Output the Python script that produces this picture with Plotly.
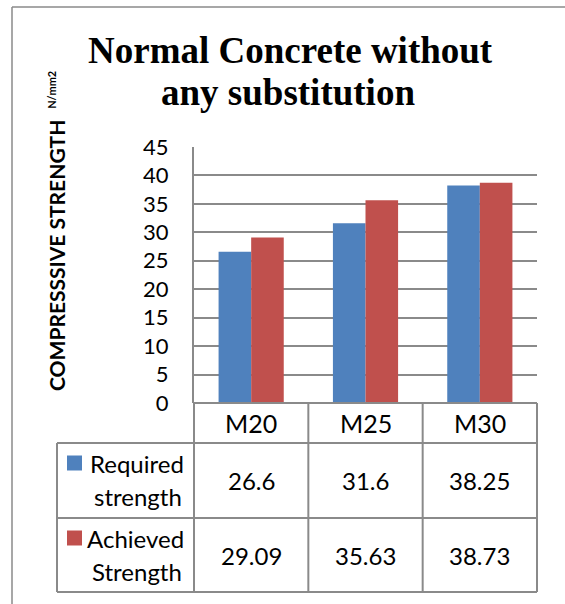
import plotly.graph_objects as go

# ---- data ----
categories = ["M20", "M25", "M30"]
series_names = ["Required strength", "Achieved Strength"]
legend_lines = [["Required", "strength"], ["Achieved", "Strength"]]
required = [26.6, 31.6, 38.25]
achieved = [29.09, 35.63, 38.73]
value_labels = [["26.6", "31.6", "38.25"], ["29.09", "35.63", "38.73"]]
y_ticks = [0, 5, 10, 15, 20, 25, 30, 35, 40, 45]
colors = ["#4F81BD", "#C0504D"]

# ---- geometry (pixels) ----
W, H = 565, 604
L, R, T, B = 194, 537, 147, 403
FONT = "Lato"
GRAY = "#8a8a8a"
TFS = 24  # table font size


def px(xp):
    return (xp - L) / (R - L)


def py(yp):
    return (B - yp) / (B - T)


fig = go.Figure()
for name, vals, col in zip(series_names, [required, achieved], colors):
    fig.add_trace(go.Bar(name=name, x=categories, y=vals, marker_color=col,
                         marker_line_width=0, showlegend=False))

shapes = []
ann = []

# outer border (left + top visible)
shapes.append(dict(type="line", xref="paper", yref="paper",
                   x0=px(12), x1=px(12), y0=py(7), y1=py(620),
                   line=dict(color=GRAY, width=1.5)))
shapes.append(dict(type="line", xref="paper", yref="paper",
                   x0=px(12), x1=px(580), y0=py(7), y1=py(7),
                   line=dict(color=GRAY, width=1.5)))

# table geometry
row_y = [403, 443, 518, 592]
leg_left = 57
ncat = len(categories)


def cat_px(v):
    return L + (v + 0.5) / ncat * (R - L)


# horizontal lines
shapes.append(dict(type="line", xref="paper", yref="paper", x0=px(L), x1=px(R),
                   y0=py(row_y[0]), y1=py(row_y[0]), line=dict(color=GRAY, width=2)))
for yy in row_y[1:]:
    shapes.append(dict(type="line", xref="paper", yref="paper", x0=px(leg_left), x1=px(R),
                       y0=py(yy), y1=py(yy), line=dict(color=GRAY, width=2)))
# vertical lines
for i in range(ncat + 1):
    xx = cat_px(i - 0.5)
    shapes.append(dict(type="line", xref="paper", yref="paper", x0=px(xx), x1=px(xx),
                       y0=py(row_y[0]), y1=py(row_y[-1]), line=dict(color=GRAY, width=2)))
shapes.append(dict(type="line", xref="paper", yref="paper", x0=px(leg_left), x1=px(leg_left),
                   y0=py(row_y[1]), y1=py(row_y[-1]), line=dict(color=GRAY, width=2)))

# category labels
for c in categories:
    ann.append(dict(x=c, xref="x", y=py((row_y[0] + row_y[1]) / 2), yref="paper",
                    text=c, showarrow=False, font=dict(family=FONT, size=TFS + 1, color="black"),
                    xanchor="center", yanchor="middle"))

# series rows
for r in range(2):
    top, bot = row_y[r + 1], row_y[r + 2]
    mid = (top + bot) / 2
    l1 = top + 20
    l2 = top + 53
    shapes.append(dict(type="rect", xref="paper", yref="paper",
                       x0=px(67), x1=px(82), y0=py(l1 + 7.5), y1=py(l1 - 7.5),
                       fillcolor=colors[r], line=dict(width=0)))
    ann.append(dict(x=px(186), xref="paper", y=py(l1), yref="paper", text=legend_lines[r][0],
                    showarrow=False, font=dict(family=FONT, size=TFS, color="black"),
                    xanchor="right", yanchor="middle"))
    ann.append(dict(x=px(184), xref="paper", y=py(l2), yref="paper", text=legend_lines[r][1],
                    showarrow=False, font=dict(family=FONT, size=TFS, color="black"),
                    xanchor="right", yanchor="middle"))
    for c, lab in zip(categories, value_labels[r]):
        ann.append(dict(x=c, xref="x", y=py(mid), yref="paper", text=lab, showarrow=False,
                        font=dict(family=FONT, size=TFS, color="black"),
                        xanchor="center", yanchor="middle"))

# title (two lines)
ann.append(dict(x=px(290), xref="paper", y=py(50), yref="paper",
                text="<b>Normal Concrete without</b>", showarrow=False,
                font=dict(family="Liberation Serif", size=37, color="black"),
                xanchor="center", yanchor="middle"))
ann.append(dict(x=px(288), xref="paper", y=py(92), yref="paper",
                text="<b>any substitution</b>", showarrow=False,
                font=dict(family="Liberation Serif", size=37, color="black"),
                xanchor="center", yanchor="middle"))

# y-axis title
ann.append(dict(x=px(56), xref="paper", y=py(231), yref="paper",
                text="<b>COMPRESSSIVE STRENGTH</b>&nbsp;&nbsp;<sup><b><span style=\"font-size:11px\">N/mm2</span></b></sup>",
                textangle=-90, showarrow=False,
                font=dict(family=FONT, size=21, color="black"),
                xanchor="center", yanchor="middle"))

fig.update_layout(
    width=W, height=H,
    margin=dict(l=L, r=W - R, t=T, b=H - B, pad=0),
    paper_bgcolor="white", plot_bgcolor="white",
    barmode="group", bargap=0.43, bargroupgap=0,
    shapes=shapes, annotations=ann,
    xaxis=dict(showticklabels=False, showgrid=False, zeroline=False, showline=False,
               range=[-0.5, ncat - 0.5], fixedrange=True),
    yaxis=dict(range=[0, 45], tickvals=y_ticks, showgrid=True, gridcolor=GRAY, gridwidth=1.5,
               zeroline=False, showline=True, linecolor=GRAY, linewidth=2, ticks="",
               ticklabelstandoff=19,
               tickfont=dict(family=FONT, size=22, color="black"), fixedrange=True),
)

fig.write_html("out.html", config={"displayModeBar": False},
               post_script="document.body.style.margin='0px';")
